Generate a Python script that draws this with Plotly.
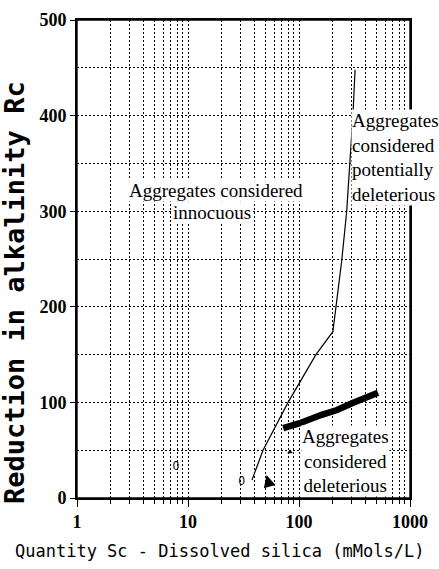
import math
import plotly.graph_objects as go

# Boundary curve (thin line)
boundary_sc = [37.7, 47.4, 79.7, 142, 202, 215, 243, 269, 306, 320]
boundary_rc = [18.8, 50, 100, 150, 174, 200, 249, 300, 400, 448]

# Thick band
band_sc = [72, 100, 160, 220, 300, 400, 515]
band_rc = [73, 78, 87, 92, 99, 105, 110]

# Small marks
zero_sc = [7.8, 30.5]
zero_rc = [32.4, 16.7]
arrow_sc = [51]
arrow_rc = [24]
tri_sc = [83]
tri_rc = [48]

# Region labels: (Sc, Rc) anchor positions
lab_innoc1 = "Aggregates considered"
lab_innoc1_pos = (17.7, 322)
lab_innoc2 = "innocuous"
lab_innoc2_pos = (16.4, 299)
lab_pot = "Aggregates<br>considered<br>potentially<br>deleterious"
lab_pot_pos = (294, 356)
lab_del = "Aggregates<br>considered<br>deleterious"
lab_del_pos = (265, 38.7)

x_tickvals = [1, 10, 100, 1000]
x_ticktext = ["1", "10", "100", "1000"]
y_tickvals = [0, 100, 200, 300, 400, 500]

fig = go.Figure()
fig.add_trace(go.Scatter(x=boundary_sc, y=boundary_rc, mode="lines",
                         line=dict(color="black", width=1.2), showlegend=False))
fig.add_trace(go.Scatter(x=band_sc, y=band_rc, mode="lines",
                         line=dict(color="black", width=6.5), showlegend=False))
fig.add_trace(go.Scatter(x=zero_sc, y=zero_rc, mode="text", text=["0"] * len(zero_sc),
                         textfont=dict(family="DejaVu Sans Condensed", size=12, color="black"),
                         showlegend=False))
fig.add_trace(go.Scatter(x=arrow_sc, y=arrow_rc, mode="markers",
                         marker=dict(symbol="arrow-up", size=12, color="black", angle=-15),
                         showlegend=False))
fig.add_trace(go.Scatter(x=tri_sc, y=tri_rc, mode="markers",
                         marker=dict(symbol="triangle-up", size=5, color="black"),
                         showlegend=False))

serif = "Liberation Serif, Times New Roman, serif"


def add_label(text, pos, **kw):
    fig.add_annotation(x=math.log10(pos[0]), y=pos[1], text=text, showarrow=False,
                       xref="x", yref="y",
                       font=dict(family=serif, size=19, color="black"),
                       bgcolor="white", borderpad=0, **kw)


add_label(lab_innoc1, lab_innoc1_pos)
add_label(lab_innoc2, lab_innoc2_pos)
add_label(lab_pot, lab_pot_pos, xanchor="left", align="left")
add_label(lab_del, lab_del_pos, align="center")

# Axis titles
fig.add_annotation(x=0.429, y=-0.111, xref="paper", yref="paper", showarrow=False,
                   xanchor="center", yanchor="middle",
                   text="Quantity Sc - Dissolved silica (mMols/L)",
                   font=dict(family="DejaVu Sans Mono", size=17, color="black"))
fig.add_annotation(x=-0.186, y=0.429, xref="paper", yref="paper", showarrow=False,
                   xanchor="center", yanchor="middle",
                   text="<b>Reduction in alkalinity Rc</b>", textangle=-90,
                   font=dict(family="DejaVu Sans Mono", size=27, color="black"))

# Plot frame
fig.add_shape(type="rect", xref="paper", yref="paper", x0=0, y0=0, x1=1, y1=1,
              line=dict(color="black", width=1.4), layer="above")

grid_dash = "2px,2px"
fig.update_xaxes(type="log", range=[0, 3], tickvals=x_tickvals, ticktext=x_ticktext,
                 showline=True, linecolor="black", linewidth=1.6, mirror=True,
                 ticks="outside", ticklen=7, tickcolor="black", tickwidth=1.2,
                 showgrid=True, gridcolor="black", gridwidth=1, griddash=grid_dash,
                 minor=dict(dtick="D1", ticks="outside", ticklen=4, tickcolor="black",
                            showgrid=True, gridcolor="black", gridwidth=1, griddash=grid_dash),
                 tickfont=dict(family=serif, size=18, color="black", weight="bold"),
                 zeroline=False, automargin=False)
fig.update_yaxes(range=[0, 500], tickvals=y_tickvals,
                 showline=True, linecolor="black", linewidth=1.6, mirror=True,
                 ticks="outside", ticklen=5, tickcolor="black", tickwidth=1.2,
                 showgrid=True, gridcolor="black", gridwidth=1, griddash=grid_dash,
                 minor=dict(dtick=50, showgrid=True, gridcolor="black", gridwidth=1, griddash=grid_dash),
                 tickfont=dict(family=serif, size=18, color="black", weight="bold"),
                 zeroline=False, automargin=False)

fig.update_layout(width=439, height=569, margin=dict(l=77, r=29, t=20, b=71),
                  paper_bgcolor="white", plot_bgcolor="white", showlegend=False)

fig.write_html("out.html", config={"displayModeBar": False},
               post_script="document.body.style.margin='0';")
